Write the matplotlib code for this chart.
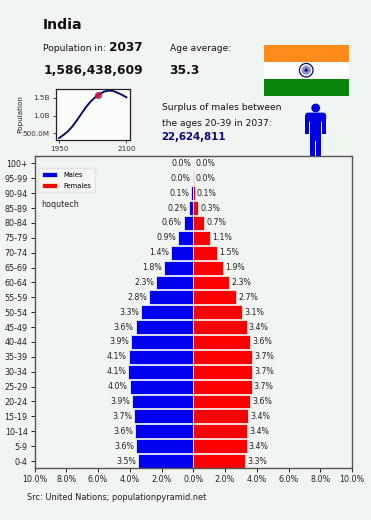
import matplotlib
matplotlib.use("Agg")
import matplotlib.pyplot as plt
from matplotlib.patches import Circle, Rectangle, FancyBboxPatch

W, H = 371, 520
BG = "#f1f5f1"

age_groups = ["0-4","5-9","10-14","15-19","20-24","25-29","30-34","35-39","40-44","45-49",
              "50-54","55-59","60-64","65-69","70-74","75-79","80-84","85-89","90-94","95-99","100+"]
males = [3.5,3.6,3.6,3.7,3.9,4.0,4.1,4.1,3.9,3.6,3.3,2.8,2.3,1.8,1.4,0.9,0.6,0.2,0.1,0.0,0.0]
females = [3.3,3.4,3.4,3.4,3.6,3.7,3.7,3.7,3.6,3.4,3.1,2.7,2.3,1.9,1.5,1.1,0.7,0.3,0.1,0.0,0.0]
bar_males = [3.45,3.6,3.65,3.72,3.87,4.0,4.08,4.07,3.92,3.62,3.27,2.8,2.32,1.85,1.4,0.95,0.6,0.25,0.12,0.03,0.0]
bar_females = [3.28,3.37,3.41,3.45,3.58,3.68,3.72,3.7,3.57,3.37,3.08,2.7,2.27,1.87,1.5,1.06,0.68,0.3,0.1,0.03,0.0]
x_ticks = [-10,-8,-6,-4,-2,0,2,4,6,8,10]

years = [1950,1960,1970,1980,1990,2000,2010,2020,2030,2037,2050,2060,2070,2080,2090,2100]
population = [0.36,0.45,0.555,0.697,0.87,1.06,1.24,1.396,1.515,1.586,1.68,1.71,1.70,1.65,1.59,1.52]
current_year = 2037
current_pop = 1.586

def axpx(l, t, r, b, **kw):
    return fig.add_axes([l/W, 1-b/H, (r-l)/W, (b-t)/H], **kw)

def txt(x, y, s, **kw):
    kw.setdefault("va", "center")
    kw.setdefault("color", "#111111")
    fig.text(x/W, 1-y/H, s, **kw)

fig = plt.figure(figsize=(W/100, H/100), dpi=100, facecolor=BG)

# Header
txt(43, 25, "India", fontsize=10.2, fontweight="bold")
txt(43, 48.5, "Population in:", fontsize=6.6)
txt(109.5, 47.5, "2037", fontsize=8.7, fontweight="bold")
txt(43.5, 70, "1,586,438,609", fontsize=8.8, fontweight="bold")
txt(169.5, 48.5, "Age average:", fontsize=6.6)
txt(169.5, 70, "35.3", fontsize=8.8, fontweight="bold")
txt(161.5, 108, "Surplus of males between", fontsize=6.6)
txt(161.5, 123, "the ages 20-39 in 2037:", fontsize=6.6)
txt(161.5, 137.5, "22,624,811", fontsize=7.4, fontweight="bold", color="#0b0b7a")
txt(27, 497, "Src: United Nations; populationpyramid.net", fontsize=5.95, color="#222222")

# Flag
flag = axpx(263.5, 45, 349, 95.5)
flag.set_xlim(0, 85.5); flag.set_ylim(50.5, 0); flag.axis("off")
flag.add_patch(Rectangle((0, 0), 85.5, 16.8, fc="#ff8c1a", lw=0))
flag.add_patch(Rectangle((0, 16.8), 85.5, 17, fc="#fdfdfd", lw=0))
flag.add_patch(Rectangle((0, 33.8), 85.5, 16.7, fc="#0b840b", lw=0))
flag.add_patch(Circle((42.7, 25.2), 6.8, fc="#f4f4fa", ec="#10104a", lw=0.9))
flag.add_patch(Circle((42.7, 25.2), 4.6, fc="#8f8fd0", lw=0))
flag.add_patch(Circle((42.7, 25.2), 1.7, fc="#1c1c80", lw=0))

# Person icon
PC = "#0000e0"
person = axpx(300, 100, 332, 156)
person.set_xlim(0, 32); person.set_ylim(56, 0); person.axis("off")
person.add_patch(Circle((15.7, 8), 4.4, fc=PC, lw=0))
person.add_patch(FancyBboxPatch((5, 12.6), 21.2, 9, boxstyle="round,pad=0,rounding_size=3.5", fc=PC, lw=0))
person.add_patch(Rectangle((10, 15), 11.4, 26, fc=PC, lw=0))
person.add_patch(Rectangle((5, 17), 4.3, 17, fc=PC, lw=0))
person.add_patch(Rectangle((21.9, 17), 4.3, 17, fc=PC, lw=0))
person.add_patch(Rectangle((10, 38), 5.1, 18, fc=PC, lw=0))
person.add_patch(Rectangle((16.2, 38), 5.2, 18, fc=PC, lw=0))

# Population inset
ins = axpx(55.5, 88.5, 130, 140.5, facecolor="#fbfdfb")
ins.plot(years, population, color="#0b0b6e", lw=1.4)
ins.scatter([current_year], [current_pop], s=26, color="#c8104a", alpha=0.85, zorder=3, lw=0)
ins.set_xlim(1942, 2108)
ins.set_ylim(0.29, 1.77)
ins.set_xticks([1950, 2100])
ins.set_yticks([0.5, 1.0, 1.5])
ins.set_yticklabels(["500.0M", "1.0B", "1.5B"])
ins.tick_params(labelsize=5.2, length=2, width=0.6, pad=2, colors="#333333")
ins.set_ylabel("Population", fontsize=5.2, labelpad=0, color="#222222")
for s in ins.spines.values():
    s.set_linewidth(0.9); s.set_color("#222222")

# Pyramid
ax = axpx(34.5, 156, 352, 468, facecolor=BG)
ypos = list(range(len(age_groups)))
ax.barh(ypos, [-v for v in bar_males], height=0.93, color="#0000f0", edgecolor="#ffffff", linewidth=0.5, label="Males")
ax.barh(ypos, bar_females, height=0.93, color="#fa0000", edgecolor="#ffffff", linewidth=0.5, label="Females")
for y, bm, bf, m, f in zip(ypos, bar_males, bar_females, males, females):
    ax.text(-bm - 0.13, y, f"{m:.1f}%", ha="right", va="center", fontsize=5.7, color="#222222")
    ax.text(bf + 0.13, y, f"{f:.1f}%", ha="left", va="center", fontsize=5.7, color="#222222")
ax.set_xlim(-10, 10)
ax.set_ylim(-0.47, 20.5)
ax.set_xticks(x_ticks)
ax.set_xticklabels([f"{abs(v):.1f}%" for v in x_ticks])
ax.set_yticks(ypos)
ax.set_yticklabels(age_groups)
ax.tick_params(labelsize=5.8, length=3, width=0.7, pad=2, colors="#222222")
for s in ax.spines.values():
    s.set_linewidth(1.0); s.set_color("#555555")
ax.legend(loc="upper left", bbox_to_anchor=(0.012, 0.96), fontsize=4.9, frameon=True,
          facecolor="#f6f8f6", edgecolor="#dddddd", handlelength=2.2, handleheight=0.8,
          borderpad=0.5, labelspacing=0.7, handletextpad=1.0, borderaxespad=0)
ax.text(0.02, 0.843, "hoqutech", transform=ax.transAxes, fontsize=5.8, va="center", color="#222222")

fig.savefig("out.png", dpi=100, facecolor=BG)
